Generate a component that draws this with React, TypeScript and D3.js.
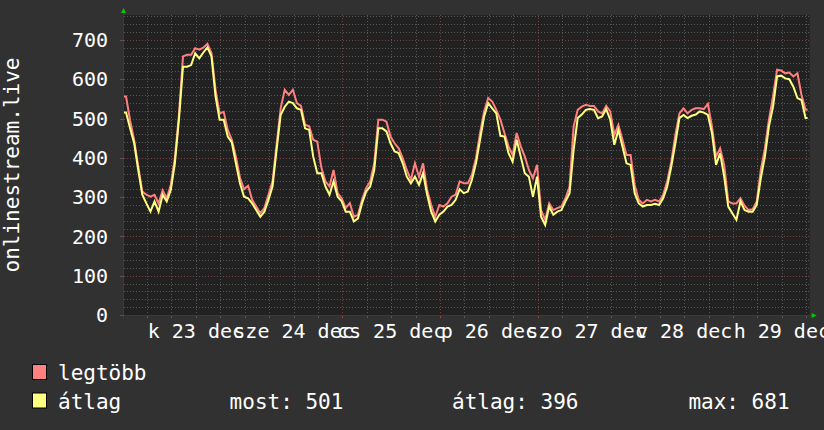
import React from 'react';
import * as d3 from 'd3';

const W = 824;
const H = 430;

// Hourly samples, first one starting at 22 Dec 18:20 UTC
const startTime = Date.UTC(2025, 11, 22, 18, 20);
const stepMs = 3600 * 1000;

const maxValues = [
  556, 495, 445, 378, 314, 306, 301, 306, 284, 317, 297, 331, 399, 509, 658, 662, 662, 679, 675, 680,
  690, 666, 573, 513, 517, 471, 446, 403, 350, 320, 329, 293, 276, 259, 272, 306, 340, 433, 526, 573,
  560, 573, 539, 532, 484, 480, 446, 441, 375, 340, 327, 369, 310, 297, 272, 285, 250, 255, 293, 323,
  340, 386, 497, 497, 492, 454, 437, 424, 399, 369, 344, 386, 352, 386, 318, 280, 250, 280, 276, 284,
  301, 306, 340, 335, 335, 357, 399, 463, 518, 552, 543, 522, 497, 463, 429, 407, 463, 429, 403, 369,
  348, 382, 267, 242, 284, 267, 272, 276, 297, 327, 480, 522, 530, 535, 532, 532, 518, 513, 532, 518,
  458, 484, 446, 407, 407, 331, 293, 284, 293, 289, 293, 289, 306, 340, 390, 458, 513, 526, 513, 522,
  526, 526, 524, 537, 480, 403, 424, 382, 289, 284, 284, 297, 278, 267, 269, 289, 369, 424, 497, 556,
  624, 622, 615, 617, 607, 615, 560, 522,
];

const avgValues = [
  515, 475, 437, 369, 306, 284, 263, 289, 263, 306, 289, 318, 386, 497, 632, 632, 636, 666, 653, 668,
  681, 658, 556, 497, 497, 454, 439, 386, 335, 301, 297, 284, 267, 250, 263, 293, 327, 420, 509, 530,
  543, 539, 526, 522, 475, 471, 403, 361, 361, 327, 306, 340, 301, 289, 263, 263, 238, 246, 284, 314,
  327, 369, 475, 475, 467, 437, 416, 412, 386, 352, 335, 352, 331, 361, 306, 263, 238, 255, 263, 276,
  280, 293, 320, 310, 314, 344, 386, 446, 505, 539, 526, 513, 456, 454, 412, 390, 446, 403, 361, 352,
  301, 352, 250, 229, 276, 255, 263, 267, 289, 310, 420, 501, 510, 522, 524, 522, 501, 505, 524, 497,
  433, 471, 429, 386, 382, 310, 284, 276, 280, 280, 283, 280, 297, 327, 378, 437, 501, 509, 501, 507,
  510, 518, 515, 509, 463, 382, 412, 352, 276, 259, 242, 289, 267, 263, 263, 280, 348, 403, 480, 530,
  607, 609, 602, 600, 581, 552, 547, 501,
];

const yTickValues = [0, 100, 200, 300, 400, 500, 600, 700];
const dayLabels = ['k 23 dec', 'sze 24 dec', 'cs 25 dec', 'p 26 dec', 'szo 27 dec', 'v 28 dec', 'h 29 dec'];
const seriesNames = ['legtöbb', 'átlag'];
const statLabels = ['most: 501', 'átlag: 396', 'max: 681'];

const COLORS = {
  back: '#313131',
  canvas: '#212121',
  gridMinor: '#575757',
  gridMajor: '#7a4141',
  font: '#ffffff',
  max: '#ff8080',
  avg: '#ffff80',
  arrow: '#00cc00',
};

const FONT = '"DejaVu Sans Mono", monospace';

export default function App() {
  const left = 124;
  const right = 807.6;
  const top = 15;
  const bottom = 315;

  const endTime = startTime + 7 * 24 * stepMs;
  const x = d3.scaleUtc().domain([startTime, endTime]).range([left, right]);
  const y = d3.scaleLinear().domain([0, 763.4]).range([bottom, top]);

  type Pt = { t: number; v: number };
  // each sample is placed at the middle of its hour, the ends are held flat to the frame
  const toPoints = (vals: number[]): Pt[] => {
    const pts = vals.map((v, i) => ({ t: startTime + (i + 0.5) * stepMs, v }));
    pts.unshift({ t: startTime, v: vals[0] });
    pts.push({ t: endTime, v: vals[vals.length - 1] });
    return pts;
  };
  const line = d3
    .line<Pt>()
    .x((d) => x(d.t))
    .y((d) => y(d.v))
    .curve(d3.curveLinear);

  const hGrid = d3.range(20, 764, 20);
  const vGrid = d3.utcHour.every(6)!.range(new Date(startTime), new Date(endTime));
  const noons = d3.utcHour
    .range(new Date(startTime), new Date(endTime))
    .filter((d) => d.getUTCHours() === 12);

  return (
    <div style={{ position: 'fixed', left: 0, top: 0 }}>
      <svg width={W} height={H} style={{ display: 'block' }}>
        <rect x={0} y={0} width={W} height={H} fill={COLORS.back} />
        <rect x={left} y={top} width={right - left + 2} height={bottom - top} fill={COLORS.canvas} />

        {/* horizontal grid */}
        {hGrid.map((v) => (
          <line
            key={'h' + v}
            x1={left}
            x2={right + 2}
            y1={Math.round(y(v)) + 0.5}
            y2={Math.round(y(v)) + 0.5}
            stroke={v % 100 === 0 ? COLORS.gridMajor : COLORS.gridMinor}
            strokeDasharray="1,2"
          />
        ))}
        {/* vertical grid */}
        {vGrid.map((d) => {
          const xx = Math.round(x(d)) + 0.5;
          const major = d.getUTCHours() === 0;
          return (
            <g key={'v' + d.getTime()}>
              <line
                x1={xx}
                x2={xx}
                y1={top}
                y2={bottom}
                stroke={major ? COLORS.gridMajor : COLORS.gridMinor}
                strokeDasharray="1,2"
              />
              <line x1={xx} x2={xx} y1={bottom} y2={bottom + 3} stroke={major ? '#a04040' : COLORS.gridMinor} />
            </g>
          );
        })}

        {/* axes */}
        <line x1={left - 0.5} x2={left - 0.5} y1={top - 3} y2={bottom + 3} stroke="#3a3a3a" strokeWidth={1} />
        <line x1={left - 3} x2={right + 4} y1={bottom + 0.5} y2={bottom + 0.5} stroke="#3a3a3a" strokeWidth={1} />
        <path d={`M${left - 3},${top - 2} L${left + 2},${top - 2} L${left - 0.5},${top - 7} Z`} fill={COLORS.arrow} />
        <path d={`M${right + 4},${bottom - 2} L${right + 4},${bottom + 3} L${right + 9},${bottom + 0.5} Z`} fill={COLORS.arrow} />

        {/* y tick labels */}
        {yTickValues.map((v) => (
          <g key={'yt' + v}>
            <line x1={left - 4} x2={left} y1={Math.round(y(v)) + 0.5} y2={Math.round(y(v)) + 0.5} stroke="#555" />
            <text
              x={108}
              y={y(v)}
              dy="0.36em"
              textAnchor="end"
              fontFamily={FONT}
              fontSize={20}
              fill={COLORS.font}
            >
              {v}
            </text>
          </g>
        ))}

        {/* day labels at noon */}
        {noons.map((d, i) => (
          <text
            key={'xl' + i}
            x={x(d)}
            y={338}
            textAnchor="middle"
            fontFamily={FONT}
            fontSize={20}
            fill={COLORS.font}
          >
            {dayLabels[i]}
          </text>
        ))}

        {/* vertical title */}
        <text
          transform={`translate(19,165) rotate(-90)`}
          textAnchor="middle"
          fontFamily={FONT}
          fontSize={21}
          fill={COLORS.font}
        >
          onlinestream.live
        </text>

        {/* series */}
        <g>
          <path d={line(toPoints(maxValues)) || ''} fill="none" stroke={COLORS.max} strokeWidth={2} />
          <path d={line(toPoints(avgValues)) || ''} fill="none" stroke={COLORS.avg} strokeWidth={2} />
        </g>

        {/* legend */}
        {seriesNames.map((name, i) => {
          const yy = 380 + i * 28.5;
          return (
            <g key={'lg' + i}>
              <rect
                x={32.5}
                y={yy - 15.5}
                width={14}
                height={15}
                fill={i === 0 ? COLORS.max : COLORS.avg}
                stroke="#000"
                strokeWidth={1}
              />
              <text x={58} y={yy} fontFamily={FONT} fontSize={21} fill={COLORS.font}>
                {name}
              </text>
            </g>
          );
        })}
        {statLabels.map((s, i) => (
          <text key={'st' + i} x={[229.6, 452, 688.4][i]} y={408.5} fontFamily={FONT} fontSize={21} fill={COLORS.font}>
            {s}
          </text>
        ))}
      </svg>
    </div>
  );
}
